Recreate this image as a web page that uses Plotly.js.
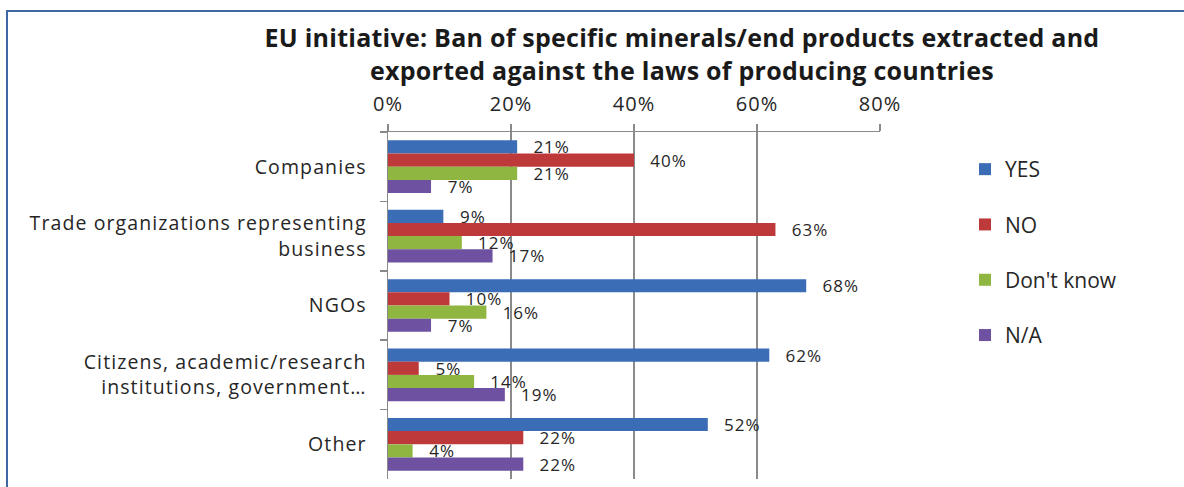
<!DOCTYPE html>
<html>
<head>
<meta charset="utf-8">
<script src="https://cdn.plot.ly/plotly-3.0.1.min.js"></script>
<style>
html,body{margin:0;padding:0;background:#fff;}
#chart{width:1184px;height:487px;}
#chart .ytick text{letter-spacing:1.1px;}
#chart .xtick text{letter-spacing:1px;}
#chart text.bartext{letter-spacing:1px;}
#chart text.gtitle{letter-spacing:0.25px;}
</style>
</head>
<body>
<div id="chart"></div>
<script>
const categories = [
  "Companies",
  "Trade organizations representing<br>business",
  "NGOs",
  "Citizens, academic/research<br>institutions, government…",
  "Other"
];
const seriesNames = ["YES", "NO", "Don't know", "N/A"];
const yesValues = [21, 9, 68, 62, 52];
const noValues = [40, 63, 10, 5, 22];
const dontKnowValues = [21, 12, 16, 14, 4];
const naValues = [7, 17, 7, 19, 22];
const xTickValues = [0, 20, 40, 60, 80];
const xTickLabels = ["0%", "20%", "40%", "60%", "80%"];

const colors = ["#3a6db5", "#be3a3a", "#8fb641", "#6e51a0"];
const allValues = [yesValues, noValues, dontKnowValues, naValues];
const FONT = "'Open Sans', sans-serif";
const TXT = "#262626";
const GRID = "#8a8a8a";

const traces = allValues.map((vals, i) => ({
  type: "bar",
  orientation: "h",
  name: seriesNames[i],
  legendgroup: "g" + i,
  y: categories,
  x: vals,
  marker: {color: colors[i]},
  text: vals.map(v => "\u00a0\u00a0\u00a0" + v + "%"),
  textposition: "outside",
  constraintext: "none",
  cliponaxis: false,
  textfont: {family: FONT, size: 17, color: TXT},
  hoverinfo: "skip"
}));

const W = 1184, H = 487;
const L = 388, R = 880, T = 132, B = 479;
const pw = R - L, ph = B - T;
function px2paperX(p){ return (p - L) / pw; }
function px2paperY(p){ return (B - p) / ph; }

const layout = {
  width: W, height: H,
  margin: {l: L, r: W - R, t: T, b: H - B},
  paper_bgcolor: "#ffffff",
  plot_bgcolor: "#ffffff",
  font: {family: FONT, color: TXT},
  barmode: "group",
  bargap: 0.24,
  bargroupgap: 0,
  showlegend: true,
  title: {
    text: "<b>EU initiative: Ban of specific minerals/end products extracted and<br>exported against the laws of producing countries</b>",
    font: {family: FONT, size: 25, color: "#1a1a1a"},
    x: 682 / W, xref: "container", xanchor: "center",
    y: 1 - 47 / H, yref: "container", yanchor: "top"
  },
  xaxis: {
    side: "top",
    range: [0, 80],
    tickvals: xTickValues,
    ticktext: xTickLabels,
    showgrid: true,
    gridcolor: GRID,
    gridwidth: 1.5,
    zeroline: false,
    showline: true,
    linecolor: GRID,
    linewidth: 1.5,
    ticks: "outside",
    ticklen: 7,
    tickcolor: GRID,
    tickwidth: 1.5,
    ticklabelstandoff: 5,
    tickfont: {family: FONT, size: 20, color: TXT},
    fixedrange: true
  },
  yaxis: {
    type: "category",
    autorange: "reversed",
    showgrid: false,
    zeroline: false,
    showline: true,
    linecolor: GRID,
    linewidth: 1.5,
    ticks: "outside",
    tickson: "boundaries",
    ticklen: 7,
    tickcolor: GRID,
    tickwidth: 1.5,
    ticklabelstandoff: 16,
    tickfont: {family: FONT, size: 19.5, color: TXT},
    fixedrange: true
  },
  legend: {
    x: px2paperX(965), xanchor: "left",
    y: px2paperY(149), yanchor: "top",
    traceorder: "grouped",
    tracegroupgap: 25,
    font: {family: FONT, size: 21, color: TXT},
    bgcolor: "rgba(0,0,0,0)"
  },
  shapes: [{
    type: "rect", xref: "paper", yref: "paper",
    x0: px2paperX(7), x1: px2paperX(1300),
    y0: px2paperY(11), y1: px2paperY(600),
    line: {color: "#3d68a5", width: 2},
    fillcolor: "rgba(0,0,0,0)",
    layer: "below"
  }]
};

Plotly.newPlot("chart", traces, layout, {displayModeBar: false, staticPlot: true});
</script>
</body>
</html>
